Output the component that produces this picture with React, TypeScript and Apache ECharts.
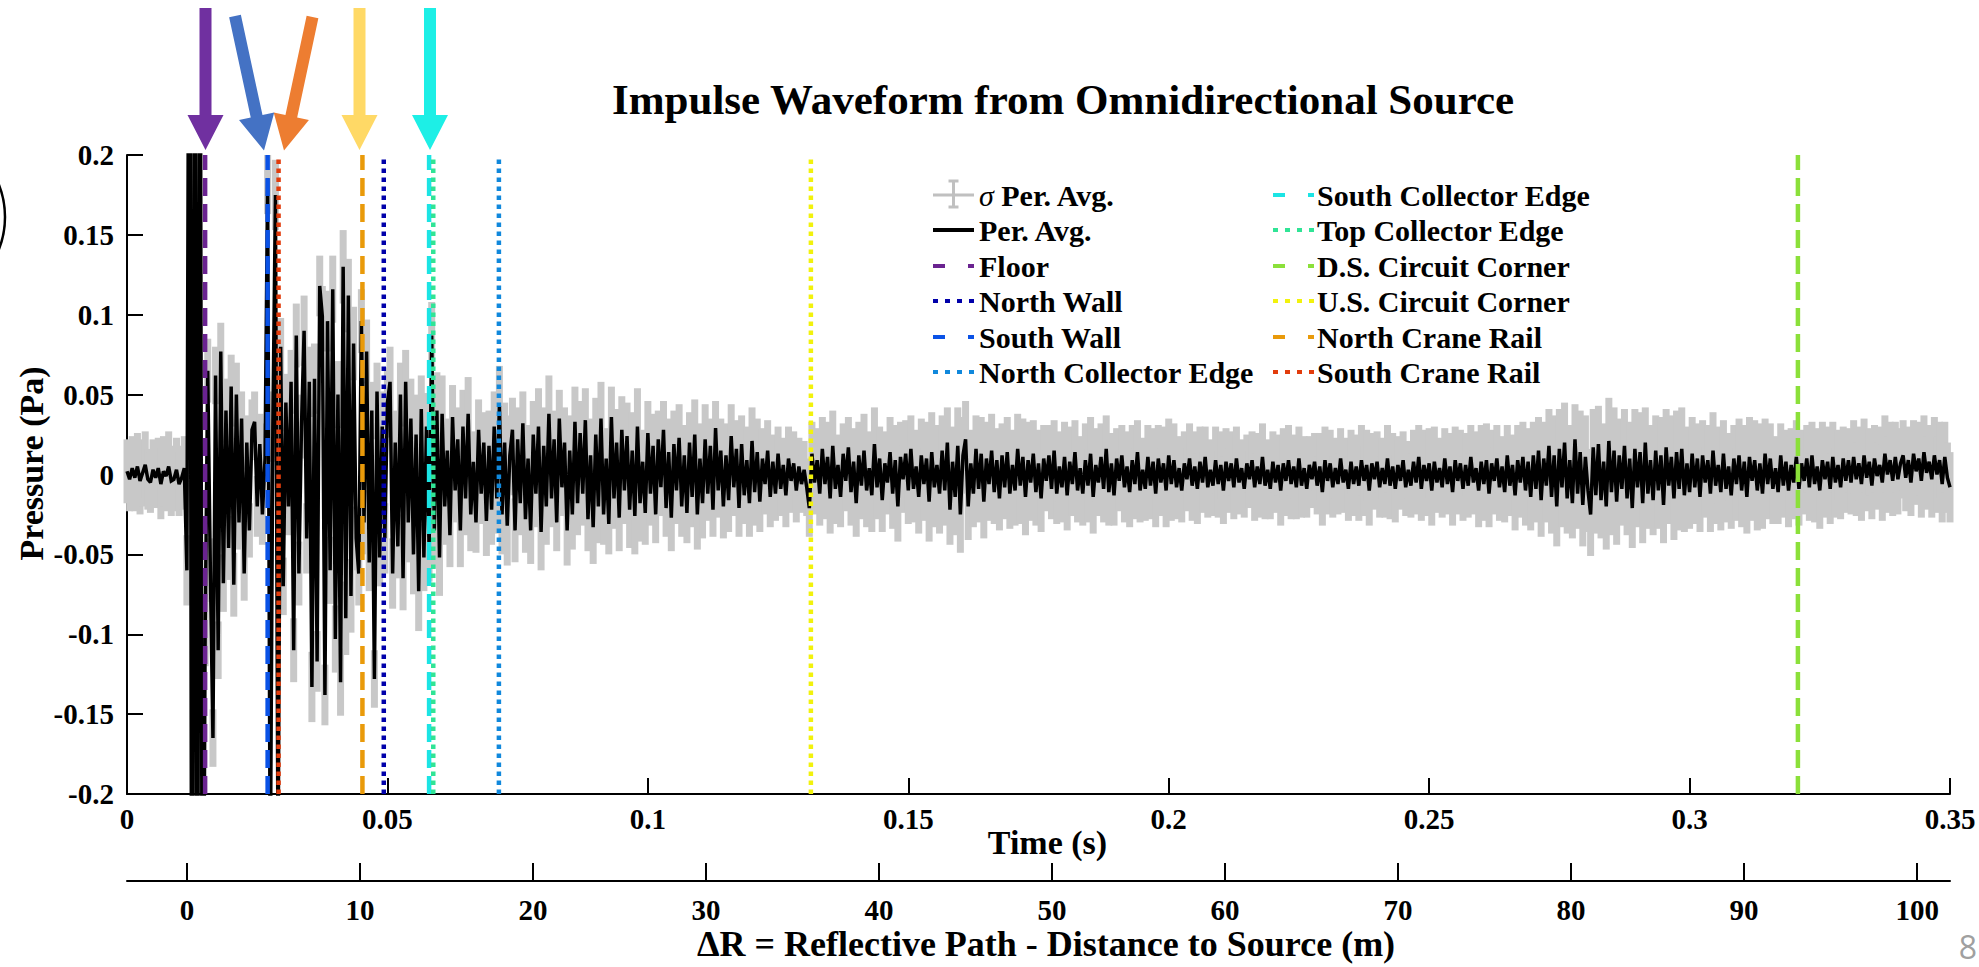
import React, { useEffect, useRef } from "react";
import * as echarts from "echarts";

// ---------------- data ----------------
const SAMPLE_STEP_S = 0.0005; // Per. Avg. sample spacing (s)
const SIGMA_STEP_S = 0.0025; // sigma sample spacing (s)

// Per. Avg. pressure in mPa, t = 0 ... 0.0600 s
const perAvgEarly_mPa = [
  2, -3, 4, -2, 5, -4, 1, 6, -3, -5, 3, -2, 4, -6, 2, -1, 5, -4, -3, 3, -6, -2, 4,
  -60, 480, -500, 490, -480, 470, -450, -100, 65, -60, -165, 62, -110, 77, -68, 40, -46, 55, -69, 50, -30, 35, -62, 20, -35, 28, 33, -20, 19, -25, 10,
  185, -260, 30, 175, -250, 80,
  -70, 45, -20, 58, -110, 87, -62, 30, 90, -40,
  58, -133, 60, -117, 118, 99, -138, 96, -60, 116,
  -103, 50, -130, 130, -90, 112, -76, 82, -40, -62,
  96, -30, 77, -55, 40, -128, 52, -52, 30, -40,
  45, 58, -62, 20, -45, 50, -65, 58, -30, 35,
  -50, 25, -73, 41, -52, 30, -46, 87, -35, 40,
  -52,
];

// Per. Avg. pressure in mPa, t = 0.0605 ... 0.2000 s
const perAvgMid_mPa = [
  38, -20, 15, -38, 36, -10, 22, -35, 30, -15,
  38, -25, 8, -30, 28, -12, 20, -29, 18, -22,
  30, -15, 43, -25, 20, -32, 12, 28, -35, 22,
  -18, 32, -28, 10, -35, 25, -12, 30, -36, 18,
  -20, 38, -15, 22, -30, 35, -8, 20, -35, 15,
  -25, 33, -18, 26, -12, 34, -28, 12, -33, 25,
  -20, 35, -25, 10, -31, 36, -15, 20, -27, 28,
  -10, 24, -22, 15, -26, 30, -18, 8, -24, 26,
  -12, 18, -25, 22, -8, 28, -21, 14, -27, 19,
  -10, 23, -20, 12, -24, 20, -14, 25, -25, 10,
  -18, 22, -12, 18, -22, 29, -10, 15, -20, 12,
  -16, 24, -8, 16, -21, 19, -13, 9, -18, 21,
  -11, 14, -17, 10, -6, 15, -14, 8, -12, 13,
  -9, 6, -13, 10, -4, 7, -10, 5, -6, 3,
  -8, -21, 13, -5, 9, -12, 16, -6, 11, -15,
  18, -9, 6, -14, 13, -4, 17, -11, 8, -18,
  12, -7, 15, -10, 4, -13, 19, -8, 10, -16,
  7, -5, 14, -12, 9, -20, 11, -3, 13, -10,
  16, -9, 5, -14, 12, -6, 10, -17, 14, -8,
  6, -12, 15, -10, 20, -22, 8, -14, 18, -25,
  12, 22, -20, 7, -12, 16, -9, 13, -17, 10,
  -6, 15, -11, 9, -15, 12, -8, 14, -12, 6,
  -10, 16, -7, 11, -14, 9, -5, 13, -11, 7,
  -15, 10, -4, 12, -9, 15, -12, 5, -8, 11,
  -13, 8, -6, 14, -10, 4, -12, 9, -7, 13,
  -14, 6, -5, 11, -9, 16, -11, 7, -13, 10,
  -4, 12, -8, 5, -11, 9, -6, 14, -10, 3,
  -9, 11, -7, 8, -12, 10, -5, 7, -10, 12,
];

// Per. Avg. pressure in mPa, t = 0.2005 ... 0.3500 s
const perAvgLate_mPa = [
  -6, 9, -8, 4, -10, 7, -3, 10, -7, 5,
  -9, 8, -5, 11, -8, 3, -7, 9, -6, 6,
  -10, 8, -4, 7, -8, 10, -5, 4, -9, 7,
  -3, 9, -8, 5, -6, 11, -7, 3, -9, 8,
  -5, 6, -10, 7, -4, 9, -6, 5, -8, 10,
  -7, 4, -9, 6, -3, 8, -7, 5, -11, 9,
  -4, 7, -8, 4, -6, 10, -5, 3, -9, 8,
  -6, 5, -7, 9, -4, 6, -10, 7, -3, 8,
  -8, 4, -6, 10, -7, 5, -9, 6, -4, 9,
  -8, 3, -7, 8, -5, 11, -9, 6, -4, 7,
  -10, 8, -5, 4, -8, 10, -6, 5, -11, 9,
  -4, 7, -9, 6, -7, 11, -5, 4, -10, 8,
  -6, 9, -12, 7, -4, 10, -8, 5, -11, 12,
  -7, 6, -13, 9, -5, 11, -10, 8, -14, 12,
  -9, 15, -16, 10, -7, 18, -14, 12, -20, 16,
  -8, 20, -15, 9, -18, 22, -12, 14, -19, 11,
  -10, -25, 17, -13, 19, -16, 8, -20, 21, -11,
  15, -17, 12, -9, 18, -15, 10, -21, 16, -8,
  14, -18, 20, -12, 9, -16, 15, -10, 12, -19,
  17, -7, 11, -15, 14, -9, 16, -13, 7, -11,
  13, -8, 10, -14, 12, -5, 9, -12, 15, -7,
  6, -11, 13, -9, 5, -13, 10, -6, 12, -10,
  8, -14, 11, -4, 9, -10, 7, -12, 13, -6,
  10, -9, 4, -11, 12, -7, 8, -10, 6, -5,
  11, -9, 7, -4, 10, -8, 12, -6, 5, -10,
  9, -3, 8, -9, 11, -5, 6, -8, 10, -4,
  9, -5, 11, -3, 7, -6, 12, -2, 8, -7,
  10, -1, 6, -5, 13, 0, 9, -4, 11, -3,
  7, 12, -2, 9, -5, 13, 2, 10, -4, 14,
  1, 8, -3, 12, 0, 9, -6, 11, -2, -8,
];

// standard deviation of the period average, mPa, every SIGMA_STEP_S
const sigmaPerAvg_mPa = [
  20, 21, 19, 22, 20, 22, 20, 18, 20, 17, 19, 22,
  18, 20, 22, 19, 21, 23, 20, 18,
  22, 20, 25, 21, 24,
  20, 23, 19, 22, 25, 20,
  21, 24, 18, 22, 20, 23, 19, 21, 24, 20,
  18, 21, 19, 22, 17, 20, 18, 21, 19, 17, 20, 18,
  20, 22, 19, 21, 23, 20, 22, 21,
  23, 25, 22, 24, 21, 23, 20, 22, 24, 21, 19, 22, 20, 23, 21, 19, 22, 20, 21, 23,
  20, 22, 19, 21, 20, 18, 21, 19, 22, 20, 18, 21, 19, 20, 22, 19, 21, 18, 20, 22, 19, 21, 20, 23, 21, 19, 22, 21,
  23, 25, 22, 26, 24, 27, 23, 25, 22, 24, 26, 23,
  22, 24, 21, 23, 25, 22, 20, 23, 21, 24, 22, 20, 23, 21, 24, 22, 21, 23, 24, 22,
];

const reflectorNames = [
  "Floor",
  "North Wall",
  "South Wall",
  "North Collector Edge",
  "South Collector Edge",
  "Top Collector Edge",
  "D.S. Circuit Corner",
  "U.S. Circuit Corner",
  "North Crane Rail",
  "South Crane Rail",
];
const reflectorTimes_s = [0.015, 0.0493, 0.027, 0.0714, 0.058, 0.0588, 0.3208, 0.1313, 0.0452, 0.0291];

const timeRange_s = [0, 0.35];
const timeInterval_s = 0.05;
const pressureRange_Pa = [-0.2, 0.2];
const pressureInterval_Pa = 0.05;
const deltaRRange_m = [-3.47, 101.9];
const deltaRTicks_m = [0, 10, 20, 30, 40, 50, 60, 70, 80, 90, 100];

// ---------------- styles ----------------
const FONT = "Liberation Serif, DejaVu Serif, serif";
const reflectorStyles: Record<string, { color: string; dash: "dashed" | "dotted" }> = {
  Floor: { color: "#6a2390", dash: "dashed" },
  "North Wall": { color: "#0000aa", dash: "dotted" },
  "South Wall": { color: "#0a52e6", dash: "dashed" },
  "North Collector Edge": { color: "#1088dc", dash: "dotted" },
  "South Collector Edge": { color: "#1be4e4", dash: "dashed" },
  "Top Collector Edge": { color: "#30e496", dash: "dotted" },
  "D.S. Circuit Corner": { color: "#8be03a", dash: "dashed" },
  "U.S. Circuit Corner": { color: "#f2f20c", dash: "dotted" },
  "North Crane Rail": { color: "#e99a0a", dash: "dashed" },
  "South Crane Rail": { color: "#e23c0c", dash: "dotted" },
};
const PLOT_DASH = { dashed: [18, 8], dotted: [4.5, 4.5] };
const LEGEND_DASH = { dashed: [12, 23], dotted: [5, 7] };

const arrowDecor = [
  { tail: [205.5, 8], tip: [205.5, 150], color: "#7030A0" },
  { tail: [235, 16], tip: [264, 150.5], color: "#4472C4" },
  { tail: [312.5, 17], tip: [284, 150.5], color: "#ED7D31" },
  { tail: [359.5, 8], tip: [359.5, 150], color: "#FFD966" },
  { tail: [430, 8], tip: [430, 150], color: "#1DEFE6" },
];

function arrowPoints(tail: number[], tip: number[]) {
  const shaftHalf = 6, headHalf = 18, headLen = 35;
  const dx = tip[0] - tail[0], dy = tip[1] - tail[1];
  const len = Math.hypot(dx, dy);
  const ux = dx / len, uy = dy / len;
  const nx = -uy, ny = ux;
  const bx = tip[0] - ux * headLen, by = tip[1] - uy * headLen;
  return [
    [tail[0] + nx * shaftHalf, tail[1] + ny * shaftHalf],
    [bx + nx * shaftHalf, by + ny * shaftHalf],
    [bx + nx * headHalf, by + ny * headHalf],
    [tip[0], tip[1]],
    [bx - nx * headHalf, by - ny * headHalf],
    [bx - nx * shaftHalf, by - ny * shaftHalf],
    [tail[0] - nx * shaftHalf, tail[1] - ny * shaftHalf],
  ];
}

function textStyle(text: string, x: number, y: number, size: number, extra: any = {}) {
  return {
    text,
    x,
    y,
    fontSize: size,
    fontWeight: "bold",
    fontFamily: FONT,
    fill: "#000",
    align: "left",
    textAlign: "left",
    verticalAlign: "middle",
    textVerticalAlign: "middle",
    ...extra,
  };
}

function buildLegend() {
  const rowsY = [195, 230, 266, 301, 337, 372];
  const cols = [
    { iconX: 933, textX: 979 },
    { iconX: 1273, textX: 1317 },
  ];
  const iconW = 41;
  const els: any[] = [];
  const entries: { name: string; kind: string; color: string; dash?: "dashed" | "dotted" }[] = [
    { name: "σ Per. Avg.", kind: "errorbar", color: "#c0c0c0" },
    { name: "Per. Avg.", kind: "solid", color: "#000" },
    ...reflectorNames.map((n) => ({ name: n, kind: "line", color: reflectorStyles[n].color, dash: reflectorStyles[n].dash })),
  ];
  entries.forEach((e, k) => {
    const col = cols[Math.floor(k / 6)];
    const y = rowsY[k % 6];
    const x1 = col.iconX;
    if (e.kind === "errorbar") {
      const cx = x1 + iconW / 2;
      els.push({ type: "line", shape: { x1, y1: y, x2: x1 + iconW, y2: y }, style: { stroke: e.color, lineWidth: 3 } });
      els.push({ type: "line", shape: { x1: cx, y1: y - 14, x2: cx, y2: y + 12 }, style: { stroke: e.color, lineWidth: 3 } });
      els.push({ type: "line", shape: { x1: cx - 5, y1: y - 14, x2: cx + 5, y2: y - 14 }, style: { stroke: e.color, lineWidth: 3 } });
      els.push({ type: "line", shape: { x1: cx - 5, y1: y + 12, x2: cx + 5, y2: y + 12 }, style: { stroke: e.color, lineWidth: 3 } });
      els.push({
        type: "text",
        style: textStyle("{i|σ} Per. Avg.", col.textX, y, 30, {
          rich: { i: { fontStyle: "italic", fontWeight: "normal", fontSize: 30, fontFamily: FONT, fill: "#000" } },
        }),
      });
      return;
    }
    els.push({
      type: "line",
      shape: { x1, y1: y, x2: x1 + iconW, y2: y },
      style: {
        stroke: e.color,
        lineWidth: 4,
        lineDash: e.kind === "solid" ? null : LEGEND_DASH[e.dash as "dashed" | "dotted"],
      },
    });
    els.push({ type: "text", style: textStyle(e.name, col.textX, y, 30) });
  });
  return els;
}

// ---------------- chart ----------------
function buildOption() {
  const perAvg_Pa = [...perAvgEarly_mPa, ...perAvgMid_mPa, ...perAvgLate_mPa].map((v) => v / 1000);
  const waveData = perAvg_Pa.map((p, i) => [i * SAMPLE_STEP_S, p]);
  const sigmaData = perAvg_Pa.map((p, i) => {
    const k = Math.min(sigmaPerAvg_mPa.length - 1, Math.round((i * SAMPLE_STEP_S) / SIGMA_STEP_S + 1e-9));
    const s = sigmaPerAvg_mPa[k] / 1000;
    return [i * SAMPLE_STEP_S, p - s, p + s];
  });

  const yMin = pressureRange_Pa[0], yMax = pressureRange_Pa[1];

  const axisLineStyle = { color: "#000", width: 2 };
  const labelStyle = { fontSize: 29, fontWeight: "bold", fontFamily: FONT, color: "#000" };

  const graphic: any[] = [
    ...arrowDecor.map((a) => ({
      type: "polygon",
      shape: { points: arrowPoints(a.tail, a.tip) },
      style: { fill: a.color, stroke: null },
    })),
    { type: "circle", shape: { cx: -84, cy: 217, r: 89 }, style: { fill: "none", stroke: "#000", lineWidth: 2.5 } },
    {
      type: "text",
      style: {
        text: "8",
        x: 1968,
        y: 946,
        fontSize: 32,
        fontFamily: "Open Sans, Noto Sans, sans-serif",
        fill: "#a0a0a0",
        align: "center",
        textAlign: "center",
        verticalAlign: "middle",
        textVerticalAlign: "middle",
      },
    },
    ...buildLegend(),
  ];

  return {
    animation: false,
    backgroundColor: "#ffffff",
    title: {
      text: "Impulse Waveform from Omnidirectional Source",
      left: 612,
      top: 78,
      padding: 0,
      textStyle: { fontSize: 43, fontWeight: "bold", fontFamily: FONT, color: "#000" },
    },
    grid: { left: 127, right: 29, top: 155, bottom: 173, containLabel: false, outerBoundsMode: "none" },
    xAxis: [
      {
        type: "value",
        min: timeRange_s[0],
        max: timeRange_s[1],
        interval: timeInterval_s,
        position: "bottom",
        name: "Time (s)",
        nameLocation: "middle",
        nameGap: 31,
        nameMoveOverlap: false,
        nameTextStyle: { fontSize: 34, fontWeight: "bold", fontFamily: FONT, color: "#000", padding: [0, 0, 0, 18] },
        axisLine: { show: true, onZero: false, lineStyle: axisLineStyle },
        axisTick: { show: true, inside: true, length: 16, lineStyle: axisLineStyle },
        axisLabel: { ...labelStyle, margin: 10, showMinLabel: true, showMaxLabel: true },
        splitLine: { show: false },
      },
      {
        type: "value",
        min: deltaRRange_m[0],
        max: deltaRRange_m[1],
        position: "bottom",
        offset: 87,
        name: "ΔR = Reflective Path - Distance to Source (m)",
        nameLocation: "middle",
        nameGap: 45,
        nameMoveOverlap: false,
        nameTextStyle: { fontSize: 36, fontWeight: "bold", fontFamily: FONT, color: "#000", padding: [0, 0, 0, 15] },
        axisLine: { show: true, onZero: false, lineStyle: axisLineStyle },
        axisTick: { show: true, inside: true, length: 18, lineStyle: axisLineStyle, customValues: deltaRTicks_m },
        axisLabel: { ...labelStyle, margin: 14, customValues: deltaRTicks_m },
        splitLine: { show: false },
      },
    ],
    yAxis: {
      type: "value",
      min: yMin,
      max: yMax,
      interval: pressureInterval_Pa,
      name: "Pressure (Pa)",
      nameLocation: "middle",
      nameGap: 79,
      nameMoveOverlap: false,
      nameTextStyle: { fontSize: 34, fontWeight: "bold", fontFamily: FONT, color: "#000", padding: [0, 0, 0, 22] },
      axisLine: { show: true, onZero: false, lineStyle: axisLineStyle },
      axisTick: { show: true, inside: true, length: 16, lineStyle: axisLineStyle },
      axisLabel: { ...labelStyle, margin: 13 },
      splitLine: { show: false },
    },
    series: [
      {
        type: "custom",
        name: "σ Per. Avg.",
        xAxisIndex: 0,
        yAxisIndex: 0,
        data: sigmaData,
        encode: { x: 0, y: [1, 2] },
        silent: true,
        z: 1,
        renderItem: (_params: any, api: any) => {
          const t = api.value(0);
          const lo = Math.max(api.value(1), yMin);
          const hi = Math.min(api.value(2), yMax);
          if (hi <= lo) return null;
          const top = api.coord([t, hi]);
          const bot = api.coord([t, lo]);
          return {
            type: "rect",
            shape: { x: top[0] - 3.5, y: top[1], width: 7, height: bot[1] - top[1] },
            style: { fill: "#c8c8c8" },
          };
        },
      },
      {
        type: "line",
        name: "Per. Avg.",
        xAxisIndex: 0,
        yAxisIndex: 0,
        data: waveData,
        symbol: "none",
        showSymbol: false,
        silent: true,
        clip: true,
        z: 2,
        lineStyle: { color: "#000", width: 3.5, join: "miter", miterLimit: 2 },
      },
      ...reflectorNames.map((n, k) => ({
        type: "line",
        name: n,
        xAxisIndex: 0,
        yAxisIndex: 0,
        data: [
          [reflectorTimes_s[k], yMin],
          [reflectorTimes_s[k], yMax],
        ],
        symbol: "none",
        showSymbol: false,
        silent: true,
        z: 3,
        lineStyle: { color: reflectorStyles[n].color, width: 4.5, type: PLOT_DASH[reflectorStyles[n].dash] },
      })),
      { type: "line", name: "ΔR axis", xAxisIndex: 1, yAxisIndex: 0, data: [], silent: true },
    ],
    graphic,
  };
}

export default function App() {
  const ref = useRef<HTMLDivElement>(null);
  useEffect(() => {
    if (!ref.current) return;
    const chart = echarts.init(ref.current, undefined, { renderer: "svg" });
    chart.setOption(buildOption() as any);
    return () => chart.dispose();
  }, []);
  return (
    <div
      ref={ref}
      style={{ position: "absolute", left: 0, top: 0, width: 1979, height: 967, background: "#fff" }}
    />
  );
}
